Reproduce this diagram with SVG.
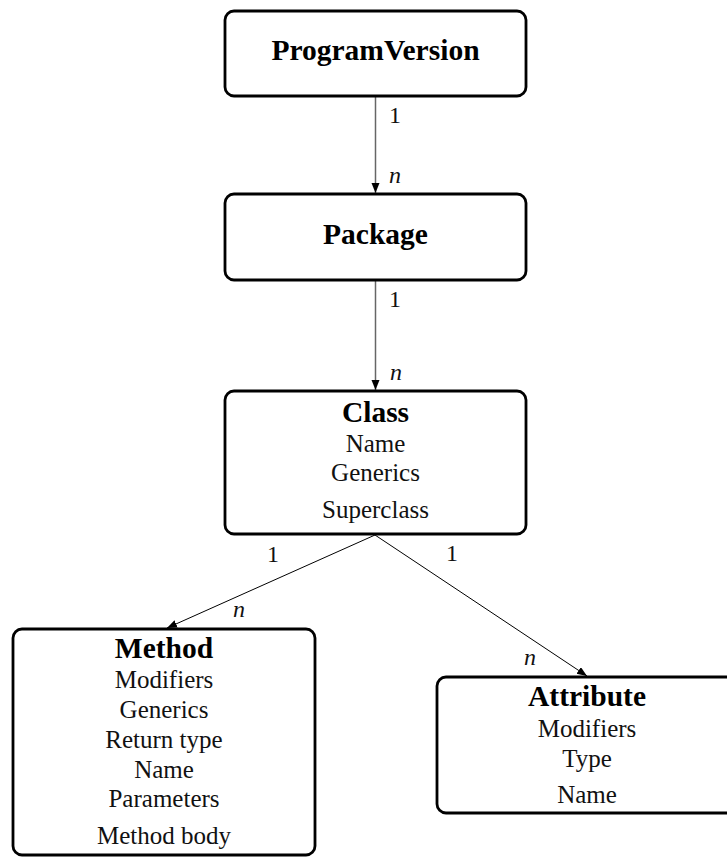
<svg xmlns="http://www.w3.org/2000/svg" width="727" height="857" viewBox="0 0 727 857">
<style>
.box{fill:#fff;stroke:#000;stroke-width:2.8}
.t{font-family:"Liberation Serif",serif;font-weight:bold;font-size:29.5px;text-anchor:middle;fill:#000}
.f{font-family:"Liberation Serif",serif;font-size:25px;text-anchor:middle;fill:#111}
.lab{font-family:"Liberation Serif",serif;font-size:24px;fill:#111}
.it{font-style:italic}
.v{stroke:#666;stroke-width:1.5;fill:none}
.d{stroke:#000;stroke-width:1;fill:none}
</style>
<defs>
<marker id="ah" markerUnits="userSpaceOnUse" markerWidth="12" markerHeight="10" refX="10" refY="4" orient="auto">
<path d="M0,0 L10,4 L0,8 Z" fill="#000"/>
</marker>
</defs>
<rect width="727" height="857" fill="#fff"/>
<g id="connectors">
<line class="v" x1="375.5" y1="97" x2="375.5" y2="193" marker-end="url(#ah)"/>
<line class="v" x1="375.5" y1="281" x2="375.5" y2="390" marker-end="url(#ah)"/>
<line class="d" x1="375" y1="535" x2="167" y2="628" marker-end="url(#ah)"/>
<line class="d" x1="375" y1="535" x2="587" y2="676" marker-end="url(#ah)"/>
<text class="lab" x="389" y="123">1</text>
<text class="lab it" x="389" y="183">n</text>
<text class="lab" x="389" y="307">1</text>
<text class="lab it" x="390" y="380">n</text>
<text class="lab" x="267" y="562">1</text>
<text class="lab it" x="233" y="617">n</text>
<text class="lab" x="446" y="561">1</text>
<text class="lab it" x="524" y="665">n</text>
</g>
<g id="programversion">
<rect class="box" x="225" y="11" width="301" height="85" rx="9"/>
<text class="t" x="375.5" y="60">ProgramVersion</text>
</g>
<g id="package">
<rect class="box" x="225" y="194" width="301" height="86" rx="9"/>
<text class="t" x="375.5" y="244">Package</text>
</g>
<g id="class">
<rect class="box" x="225" y="391" width="301" height="143" rx="9"/>
<text class="t" x="375.5" y="422">Class</text>
<text class="f" x="375.5" y="452">Name</text>
<text class="f" x="375.5" y="481">Generics</text>
<text class="f" x="375.5" y="518">Superclass</text>
</g>
<g id="method">
<rect class="box" x="13" y="629" width="302" height="226" rx="9"/>
<text class="t" x="164" y="658">Method</text>
<text class="f" x="164" y="688">Modifiers</text>
<text class="f" x="164" y="718">Generics</text>
<text class="f" x="164" y="748">Return type</text>
<text class="f" x="164" y="778">Name</text>
<text class="f" x="164" y="807">Parameters</text>
<text class="f" x="164" y="844">Method body</text>
</g>
<g id="attribute">
<rect class="box" x="437" y="677" width="300" height="136" rx="9"/>
<text class="t" x="587" y="706">Attribute</text>
<text class="f" x="587" y="737">Modifiers</text>
<text class="f" x="587" y="767">Type</text>
<text class="f" x="587" y="803">Name</text>
</g>
</svg>
